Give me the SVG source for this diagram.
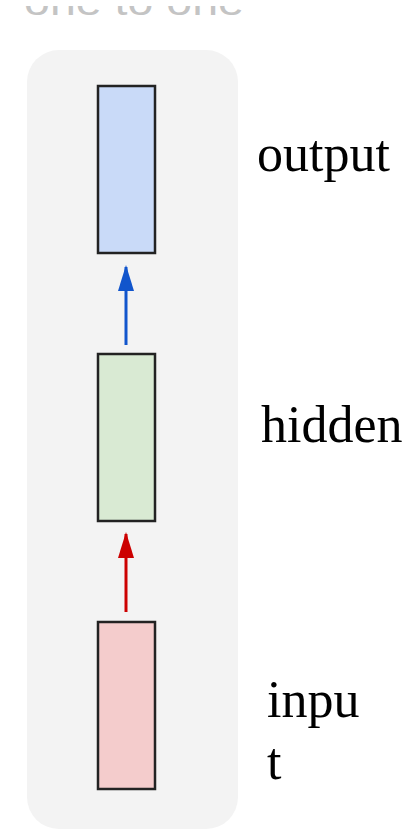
<svg xmlns="http://www.w3.org/2000/svg" width="408" height="829" viewBox="0 0 408 829">
  <style>
    .box { stroke: #222222; stroke-width: 2.5; }
    .lbl { font-family: "Liberation Serif", "Times New Roman", serif; font-size: 52px; fill: #000000; }
    .cut { font-family: "Liberation Sans", Arial, sans-serif; font-size: 38px; fill: #c4c4c4; }
  </style>
  <defs>
    <marker id="headBlue" viewBox="0 0 26 16" refX="24" refY="8" markerWidth="26" markerHeight="16" orient="auto" markerUnits="userSpaceOnUse">
      <path d="M0,0 L26,8 L0,16 Z" fill="#1155cc"/>
    </marker>
    <marker id="headRed" viewBox="0 0 26 16" refX="24" refY="8" markerWidth="26" markerHeight="16" orient="auto" markerUnits="userSpaceOnUse">
      <path d="M0,0 L26,8 L0,16 Z" fill="#cc0000"/>
    </marker>
    <clipPath id="topStrip">
      <rect x="0" y="6" width="408" height="10"/>
    </clipPath>
  </defs>
  <rect width="408" height="829" fill="#ffffff"/>
  <g clip-path="url(#topStrip)">
    <text class="cut" x="24" y="15" textLength="220" lengthAdjust="spacingAndGlyphs">one to one</text>
  </g>
  <rect id="panel" x="27" y="50" width="211" height="779" rx="32" ry="32" fill="#f3f3f3"/>
  <g id="connectors">
    <line x1="126" y1="345" x2="126" y2="267" stroke="#1155cc" stroke-width="3" marker-end="url(#headBlue)"/>
    <line x1="126" y1="612" x2="126" y2="534" stroke="#cc0000" stroke-width="3" marker-end="url(#headRed)"/>
  </g>
  <g id="output">
    <rect class="box" x="98" y="86" width="57" height="167" fill="#c9daf8"/>
    <text class="lbl" x="257" y="171">output</text>
  </g>
  <g id="hidden">
    <rect class="box" x="98" y="354" width="57" height="167" fill="#d9ead3"/>
    <text class="lbl" x="261" y="442">hidden</text>
  </g>
  <g id="input">
    <rect class="box" x="98" y="622" width="57" height="167" fill="#f4cccc"/>
    <text class="lbl" x="267" y="717">inpu</text>
    <text class="lbl" x="267" y="779">t</text>
  </g>
</svg>
